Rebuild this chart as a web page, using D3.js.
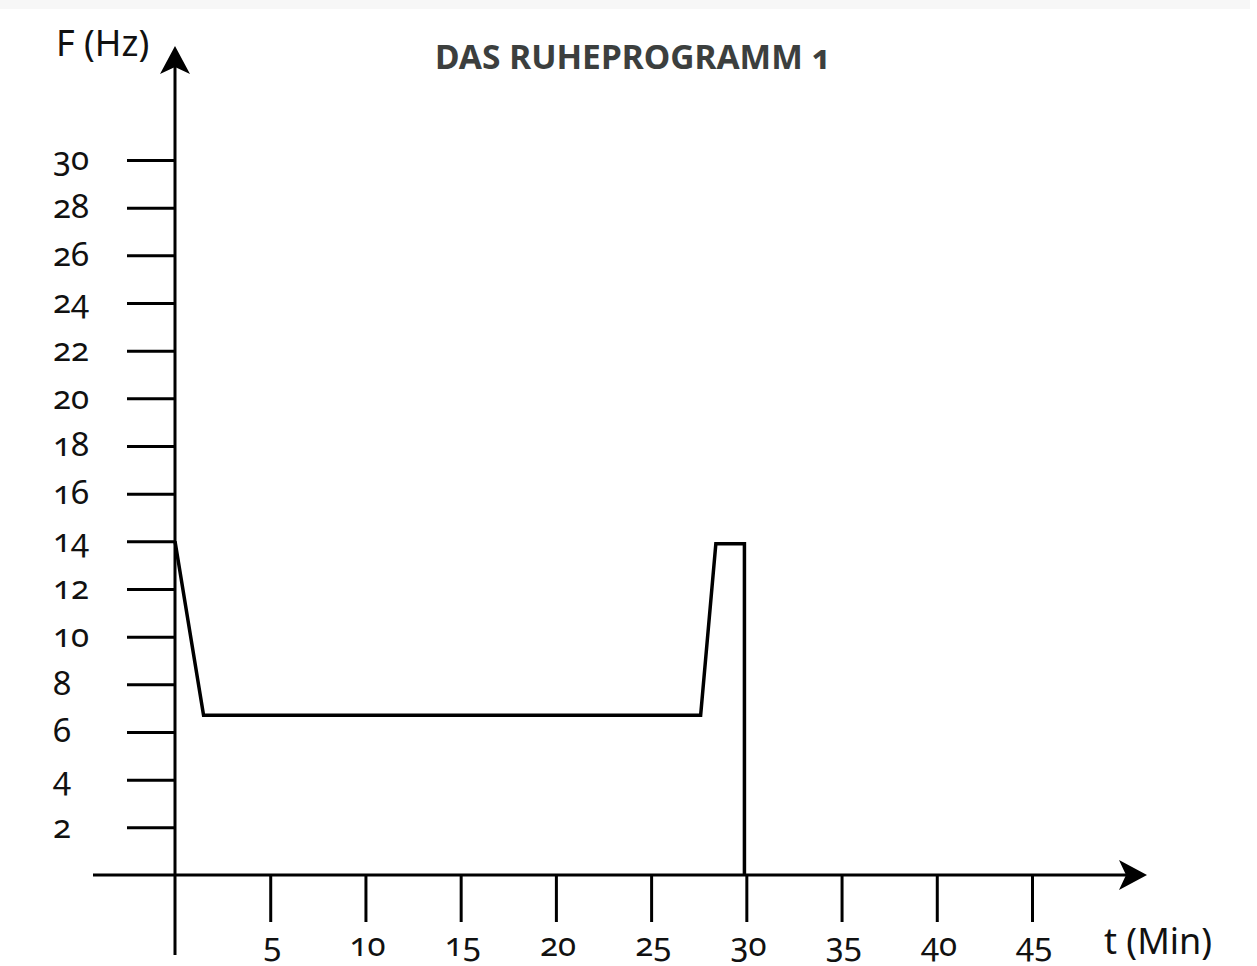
<!DOCTYPE html>
<html>
<head>
<meta charset="utf-8">
<script src="https://cdn.jsdelivr.net/npm/d3@7"></script>
<style>
  body { margin: 0; background: #fff; }
  text { font-family: "Noto Sans", "Open Sans", sans-serif; font-variant-numeric: oldstyle-nums; }
</style>
</head>
<body>
<div id="chart"></div>
<script>
var title = "DAS RUHEPROGRAMM 1";
var yTicks = [2, 4, 6, 8, 10, 12, 14, 16, 18, 20, 22, 24, 26, 28, 30];
var xTicks = [5, 10, 15, 20, 25, 30, 35, 40, 45];
// Zeit (Min), Frequenz (Hz)
var tValues = [0, 1.5, 27.6, 28.4, 29.9, 29.9];
var fValues = [14, 6.7, 6.7, 13.9, 13.9, 0];

var width = 1257, height = 966;

var svg = d3.select("#chart").append("svg")
    .attr("width", width)
    .attr("height", height);

// leichter grauer Rand oben
svg.append("rect")
    .attr("x", 0).attr("y", 0)
    .attr("width", 1250).attr("height", 9)
    .style("fill", "#f7f7f7");

var x = d3.scaleLinear().domain([0, 45]).range([175, 1032]);
var y = d3.scaleLinear().domain([0, 30]).range([875, 160]);

var ink = "#000";

// y Achse mit Ticks links
var yAxis = svg.append("g")
    .attr("transform", "translate(" + x(0) + ",0)")
    .call(d3.axisLeft(y).tickValues(yTicks).tickSize(48));
yAxis.select(".domain").remove();
yAxis.selectAll("line").style("stroke", ink).style("stroke-width", 3);
yAxis.selectAll("text")
    .attr("x", 53 - x(0))
    .attr("text-anchor", "start")
    .attr("dy", "0.3em")
    .style("font-size", "33px")
    .style("fill", "#111");

// x Achse mit Ticks unten
var xAxis = svg.append("g")
    .attr("transform", "translate(0," + y(0) + ")")
    .call(d3.axisBottom(x).tickValues(xTicks).tickSize(47).tickPadding(11));
xAxis.select(".domain").remove();
xAxis.selectAll("line").style("stroke", ink).style("stroke-width", 3);
xAxis.selectAll("text")
    .style("font-size", "33px")
    .style("fill", "#111")
    .attr("dx", "0.05em");

// Achsenlinien
svg.append("line")
    .attr("x1", x(0)).attr("x2", x(0))
    .attr("y1", 955).attr("y2", 60)
    .style("stroke", ink).style("stroke-width", 3);
svg.append("line")
    .attr("x1", 93).attr("x2", 1135)
    .attr("y1", y(0)).attr("y2", y(0))
    .style("stroke", ink).style("stroke-width", 3);

// Pfeilspitzen
svg.append("path")
    .attr("d", "M" + x(0) + ",46 L" + (x(0) - 15) + ",74 L" + x(0) + ",67 L" + (x(0) + 15) + ",74 Z")
    .style("fill", ink);
svg.append("path")
    .attr("d", "M1147," + y(0) + " L1119," + (y(0) - 15) + " L1126," + y(0) + " L1119," + (y(0) + 15) + " Z")
    .style("fill", ink);

// Verlauf
var pts = tValues.map(function(t, i) { return [t, fValues[i]]; });
var line = d3.line()
    .x(function(d) { return x(d[0]); })
    .y(function(d) { return y(d[1]); });
svg.append("path")
    .datum(pts)
    .attr("d", line)
    .style("fill", "none")
    .style("stroke", ink)
    .style("stroke-width", 3.5)
    .style("stroke-linejoin", "miter");

// Beschriftungen
svg.append("text")
    .attr("x", 56).attr("y", 56)
    .text("F (Hz)")
    .style("font-size", "36px")
    .style("fill", "#111");

svg.append("text")
    .attr("x", 1104).attr("y", 954)
    .text("t (Min)")
    .style("font-size", "36px")
    .style("fill", "#111");

svg.append("text")
    .attr("x", 633).attr("y", 69)
    .attr("text-anchor", "middle")
    .text(title)
    .style("font-size", "33.5px")
    .style("font-weight", "bold")
    .style("fill", "#3c3f3e");
</script>
</body>
</html>
